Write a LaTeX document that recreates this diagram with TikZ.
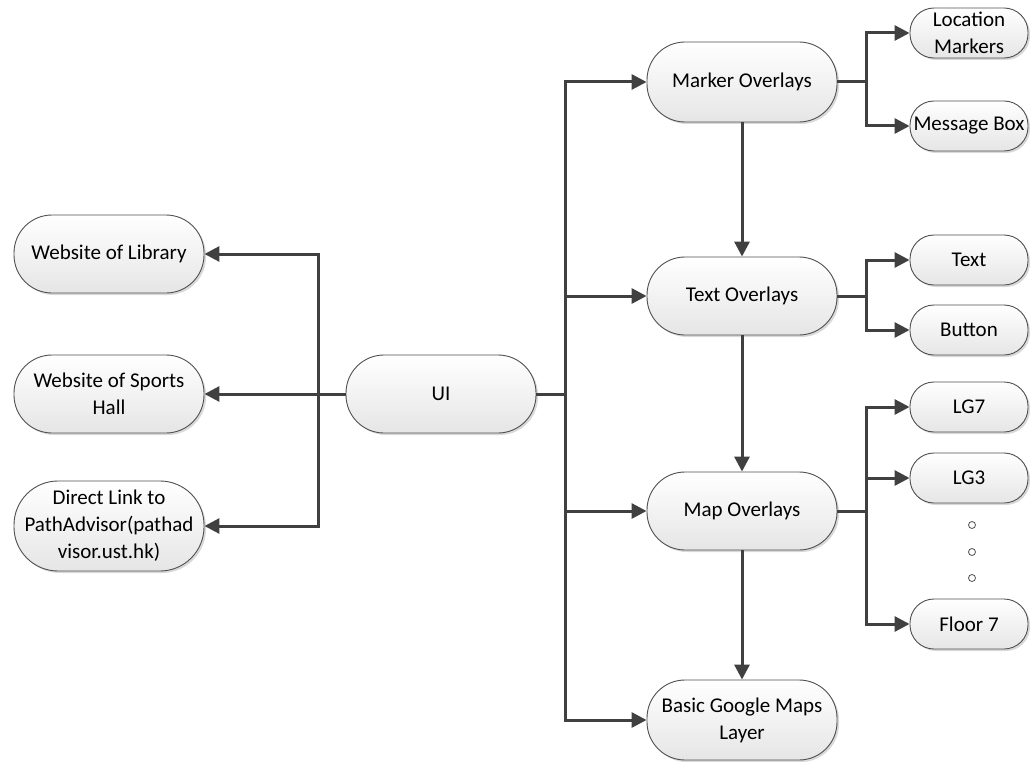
\documentclass[tikz,border=0pt]{standalone}
\usepackage{fontspec}
\setmainfont{Carlito}
\usetikzlibrary{arrows.meta,shadows}
\definecolor{linec}{RGB}{64,64,64}
\definecolor{borderc}{RGB}{80,80,80}
\tikzset{
  box/.style={draw=borderc, line width=0.9pt, top color=white, bottom color=black!10,
    align=center, font=\fontsize{21}{27}\selectfont, inner sep=0pt,
    drop shadow={shadow xshift=2pt, shadow yshift=-2pt, opacity=0.25, fill=black!60}},
  bigbox/.style={box, minimum width=190pt, minimum height=78pt, rounded corners=38pt},
  smallbox/.style={box, minimum width=118pt, minimum height=50pt, rounded corners=24pt},
  arr/.style={draw=linec, line width=3pt, -{Triangle[length=15pt,width=15pt]}},
  ln/.style={draw=linec, line width=3pt},
  dot/.style={circle, draw=borderc, fill=white, line width=0.8pt, minimum size=7pt, inner sep=0pt}
}
\begin{document}
\begin{tikzpicture}[x=1pt,y=-1pt]
\useasboundingbox (0,0) rectangle (1030,762);
% left
\node[bigbox] (lib) at (109,254) {Website of Library};
\node[bigbox] (sports) at (109,394) {Website of Sports\\Hall};
\node[bigbox, minimum height=90pt, rounded corners=44pt] (direct) at (109,526) {Direct Link to\\PathAdvisor(pathad\\visor.ust.hk)};
\node[bigbox] (ui) at (441,394) {UI};
% middle
\node[bigbox, minimum height=80pt] (marker) at (742,82) {Marker Overlays};
\node[bigbox] (textov) at (742,296) {Text Overlays};
\node[bigbox] (mapov) at (742,511) {Map Overlays};
\node[bigbox, minimum height=80pt] (basic) at (742,720) {Basic Google Maps\\Layer};
% right
\node[smallbox] (loc) at (969,33) {Location\\Markers};
\node[smallbox] (msg) at (969,126) {Message Box};
\node[smallbox] (txt) at (969,260) {Text};
\node[smallbox] (btn) at (969,330) {Button};
\node[smallbox] (lg7) at (969,407) {LG7};
\node[smallbox] (lg3) at (969,478) {LG3};
\node[smallbox] (fl7) at (969,624) {Floor 7};
\node[dot] (d1) at (972,525) {};
\node[dot] (d2) at (972,552) {};
\node[dot] (d3) at (972,578) {};
% junctions
\coordinate (jl) at (318,394);
\coordinate (jr) at (565,394);
\coordinate (jm) at (866,82);
\coordinate (jt) at (866,296);
\coordinate (jp) at (866,511);
% left connectors
\draw[arr] (ui.west) -- (sports.east);
\draw[arr] (jl) |- (lib.east);
\draw[arr] (jl) |- (direct.east);
% right trunk
\draw[ln] (ui.east) -- (jr);
\draw[arr] (jr) |- (marker.west);
\draw[arr] (jr) |- (textov.west);
\draw[arr] (jr) |- (mapov.west);
\draw[arr] (jr) |- (basic.west);
% vertical chain
\draw[arr] (marker.south) -- (textov.north);
\draw[arr] (textov.south) -- (mapov.north);
\draw[arr] (mapov.south) -- (basic.north);
% branches
\draw[ln] (marker.east) -- (jm);
\draw[arr] (jm) |- (loc.west);
\draw[arr] (jm) |- (msg.west);
\draw[ln] (textov.east) -- (jt);
\draw[arr] (jt) |- (txt.west);
\draw[arr] (jt) |- (btn.west);
\draw[ln] (mapov.east) -- (jp);
\draw[arr] (jp) |- (lg7.west);
\draw[arr] (jp) |- (lg3.west);
\draw[arr] (jp) |- (fl7.west);
\end{tikzpicture}
\end{document}
